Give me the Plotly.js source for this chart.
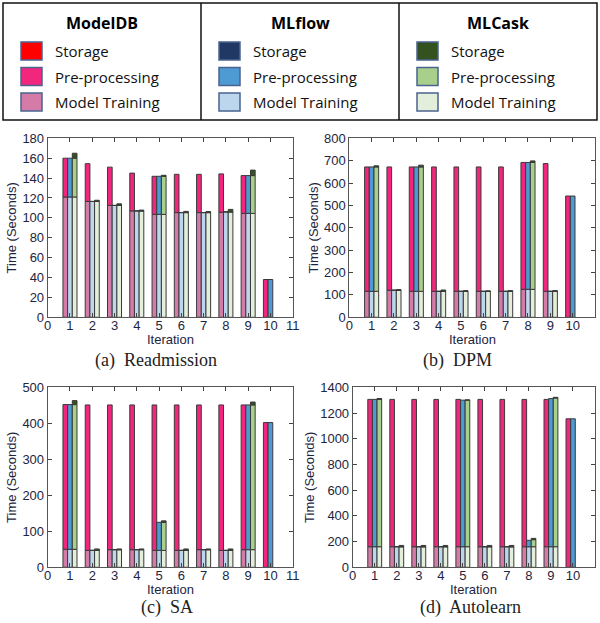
<!DOCTYPE html>
<html><head><meta charset="utf-8">
<script src="https://cdn.plot.ly/plotly-3.0.1.min.js"></script>
<style>html,body{margin:0;padding:0;background:#fff}#chart{width:600px;height:623px}</style>
</head><body><div id="chart"></div>
<script>
// ---------- data ----------
const iterations = [1,2,3,4,5,6,7,8,9,10];
const xTicks = [0,1,2,3,4,5,6,7,8,9,10,11];
const systems = ['ModelDB','MLflow','MLCask'];
const components = ['Storage','Pre-processing','Model Training'];
const captions = ['(a)  Readmission','(b)  DPM','(c)  SA','(d)  Autolearn'];

// (a) Readmission  (seconds per component)
const rdTrainDB   = [121,116.5,112.5,107,103.5,105.3,105.3,105.6,104.5,0];
const rdPreDB     = [39,38,38.5,38,38.3,38.5,38.5,38.6,38,38];
const rdTrainFlow = [121,116.5,112.5,107,103.5,105.3,105.3,106,104.5,0];
const rdPreFlow   = [39,0,0,0,38.3,0,0,0,38,38];
const rdTrainCask = [121,116.5,112.5,107,103.5,105.3,105.3,106,104.5,null];
const rdPreCask   = [39,0,0,0,38.3,0,0,0,38,null];
const rdStoreCask = [5,1.2,1.6,0.8,1,1.2,1,2.5,5.5,null];

// (b) DPM
const dpTrainDB   = [116,121,116,116,116,116,116,125,116,0];
const dpPreDB     = [556,551,556,556,556,556,556,567,571,542];
const dpTrainFlow = [116,121,116,116,116,116,116,125,116,0];
const dpPreFlow   = [556,0,556,0,0,0,0,567,0,542];
const dpTrainCask = [116,121,116,116,116,116,116,125,116,null];
const dpPreCask   = [556,0,556,0,0,0,0,567,0,null];
const dpStoreCask = [5,3,8,6,3,2,3,7,3,null];

// (c) SA
const saTrainDB   = [50,47,49,49,47,47,49,47,49,0];
const saPreDB     = [402,404,402,402,404,404,402,404,402,402];
const saTrainFlow = [50,47,49,49,47,47,49,47,49,0];
const saPreFlow   = [402,0,0,0,78,0,0,0,402,402];
const saTrainCask = [50,47,49,49,47,47,49,47,49,null];
const saPreCask   = [402,0,0,0,78,0,0,0,402,null];
const saStoreCask = [11,4,2,2,4,4,2,4,8,null];

// (d) Autolearn
const alTrainDB   = [160,160,160,160,160,160,160,160,160,0];
const alPreDB     = [1146,1146,1146,1146,1146,1146,1146,1146,1146,1155];
const alTrainFlow = [160,160,160,160,160,160,160,160,160,0];
const alPreFlow   = [1146,0,0,0,1140,0,0,50,1152,1155];
const alTrainCask = [160,160,160,160,160,160,160,160,160,null];
const alPreCask   = [1146,0,0,0,1140,0,0,55,1157,null];
const alStoreCask = [7,10,10,10,2,10,10,10,5,null];

const yMax = [180,800,500,1400];
const yStep = [20,100,100,200];

// ---------- styles ----------
const colors = {
  ModelDB: {'Storage':'#FF0000','Pre-processing':'#F2267D','Model Training':'#D47BA8'},
  MLflow:  {'Storage':'#203864','Pre-processing':'#4E9AD2','Model Training':'#BCD6EE'},
  MLCask:  {'Storage':'#33521F','Pre-processing':'#A8D08C','Model Training':'#E3EFDA'}
};
const barWidth = 0.21;
const offsets = {ModelDB:-0.315, MLflow:-0.105, MLCask:0.105};
const txtColor = '#1d2540';

// table built from the arrays above: [dataset][system] -> {component: values}
const table = [
  {ModelDB:{'Model Training':rdTrainDB,'Pre-processing':rdPreDB}, MLflow:{'Model Training':rdTrainFlow,'Pre-processing':rdPreFlow}, MLCask:{'Model Training':rdTrainCask,'Pre-processing':rdPreCask,'Storage':rdStoreCask}},
  {ModelDB:{'Model Training':dpTrainDB,'Pre-processing':dpPreDB}, MLflow:{'Model Training':dpTrainFlow,'Pre-processing':dpPreFlow}, MLCask:{'Model Training':dpTrainCask,'Pre-processing':dpPreCask,'Storage':dpStoreCask}},
  {ModelDB:{'Model Training':saTrainDB,'Pre-processing':saPreDB}, MLflow:{'Model Training':saTrainFlow,'Pre-processing':saPreFlow}, MLCask:{'Model Training':saTrainCask,'Pre-processing':saPreCask,'Storage':saStoreCask}},
  {ModelDB:{'Model Training':alTrainDB,'Pre-processing':alPreDB}, MLflow:{'Model Training':alTrainFlow,'Pre-processing':alPreFlow}, MLCask:{'Model Training':alTrainCask,'Pre-processing':alPreCask,'Storage':alStoreCask}}
];
const stackOrder = ['Model Training','Pre-processing','Storage'];

const traces = [];
table.forEach((ds, d) => {
  const suffix = d === 0 ? '' : String(d+1);
  systems.forEach(sys => {
    const base = iterations.map(() => 0);
    stackOrder.forEach(comp => {
      const vals = ds[sys][comp];
      if (!vals) return;
      traces.push({
        type:'bar', x: iterations, y: vals, base: base.slice(),
        offset: offsets[sys], width: barWidth,
        xaxis:'x'+suffix, yaxis:'y'+suffix,
        name: sys+' '+comp, showlegend:false,
        marker:{color: colors[sys][comp], opacity:1, line:{color:'#3a3a3a', width:1}},
        hoverinfo:'name+y'
      });
      vals.forEach((v,i) => { base[i] += (v || 0); });
    });
  });
});

// ---------- layout ----------
const W = 600, H = 623;
const px = v => v / W, py = v => 1 - v / H;
const boxes = [ // [left, right, top, bottom] in pixels
  [47.7,292.7,138.3,317.3],[349.3,595,138.3,317.3],
  [47.7,292.7,387.3,567.3],[352.7,595,387.3,567.3]
];
const layout = {
  width: W, height: H, margin:{l:0,r:0,t:0,b:0},
  paper_bgcolor:'#fff', plot_bgcolor:'#fff',
  barmode:'overlay', bargap:0,
  font:{family:'Liberation Sans, Arial, sans-serif', color: txtColor, size:13},
  shapes:[], annotations:[]
};
boxes.forEach((b, d) => {
  const suffix = d === 0 ? '' : String(d+1);
  layout['xaxis'+suffix] = {
    domain:[px(b[0]), px(b[1])], anchor:'y'+suffix, range:[0,11],
    tickmode:'array', tickvals: xTicks, ticktext: xTicks.map(String),
    ticks:'inside', ticklen:4, tickcolor:'#444', showline:true, linecolor:'#555', linewidth:1,
    mirror:'ticks', showgrid:false, zeroline:false, fixedrange:true,
    ticklabelstandoff:-4,
    tickfont:{size:13, color: txtColor}
  };
  layout['yaxis'+suffix] = {
    domain:[py(b[3]), py(b[2])], anchor:'x'+suffix, range:[0,yMax[d]], dtick:yStep[d], tick0:0,
    ticks:'inside', ticklen:4, tickcolor:'#444', showline:true, linecolor:'#555', linewidth:1,
    mirror:'ticks', showgrid:false, zeroline:false, fixedrange:true,
    tickfont:{size:13, color: txtColor},
    title:{text:'Time (Seconds)', font:{size:13, color: txtColor}, standoff:2}
  };
  layout.annotations.push({
    xref:'paper', yref:'paper', x: px((b[0]+b[1])/2), y: py(b[3]+22), xanchor:'center', yanchor:'middle',
    text:'Iteration', showarrow:false, borderpad:0, font:{size:13, color: txtColor}
  });
});
// captions
const capPos = [[156,360],[457,360],[167,607],[470,607]];
captions.forEach((c,i) => {
  layout.annotations.push({
    xref:'paper', yref:'paper', x: px(capPos[i][0]), y: py(capPos[i][1]), xanchor:'center', yanchor:'middle',
    text:c.replace('  ','&nbsp; '), showarrow:false, borderpad:0,
    font:{family:'Liberation Serif, Times New Roman, serif', size:18, color:'#222'}
  });
});
// legend panel
const colLeft = [3, 201, 399];
const colW = 198;
const rowY = [51, 76.5, 102];
layout.shapes.push({type:'rect', xref:'paper', yref:'paper', x0:px(3), x1:px(597), y0:py(3), y1:py(120), line:{color:'#111', width:1.5}});
layout.shapes.push({type:'line', xref:'paper', yref:'paper', x0:px(201), x1:px(201), y0:py(3), y1:py(120), line:{color:'#111', width:1.5}});
layout.shapes.push({type:'line', xref:'paper', yref:'paper', x0:px(399), x1:px(399), y0:py(3), y1:py(120), line:{color:'#111', width:1.5}});
systems.forEach((sys, s) => {
  const L = colLeft[s];
  layout.annotations.push({
    xref:'paper', yref:'paper', x: px(L + colW/2), y: py(23), xanchor:'center', yanchor:'middle',
    text:'<b>'+sys+'</b>', showarrow:false,
    font:{family:'Open Sans, Noto Sans, sans-serif', size:16, color:'#000'}
  });
  components.forEach((comp, r) => {
    layout.shapes.push({type:'rect', xref:'paper', yref:'paper',
      x0:px(L+18), x1:px(L+39), y0:py(rowY[r]+9), y1:py(rowY[r]-9),
      fillcolor: colors[sys][comp], line:{color:'#4A6390', width:1.5}});
    layout.annotations.push({
      xref:'paper', yref:'paper', x: px(L+50), y: py(rowY[r]), xanchor:'left', yanchor:'middle',
      text: comp, showarrow:false,
      font:{family:'Open Sans, Noto Sans, sans-serif', size:15, color:'#111'}
    });
  });
});

Plotly.newPlot('chart', traces, layout, {displayModeBar:false, staticPlot:true});
</script>
</body></html>
